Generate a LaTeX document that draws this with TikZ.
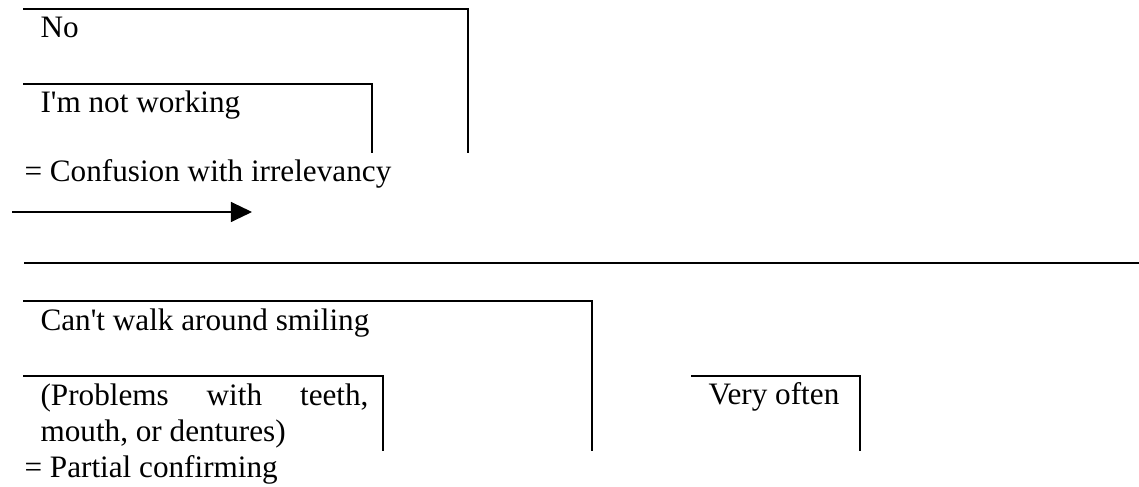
\documentclass[tikz,border=0pt]{standalone}
\usepackage{fontspec}
\setmainfont{Liberation Serif}
\usetikzlibrary{arrows.meta}
\begin{document}
\begin{tikzpicture}[x=0.375pt,y=-0.375pt,
  txt/.style={anchor=base west,inner sep=0pt,font=\fontsize{11.7pt}{13.5pt}\selectfont},
  frame/.style={line width=0.75pt,line cap=rect},
  arrowline/.style={line width=0.45pt,-{Triangle[length=7.9pt,width=7.5pt]}}]
\useasboundingbox (0,0) rectangle (1139,487);
% top group
\coordinate (f1a) at (24,9);
\coordinate (f1b) at (468,152);
\coordinate (f2a) at (24,84);
\coordinate (f2b) at (372,152);
\draw[frame] (f1a) -| (f1b);
\draw[frame] (f2a) -| (f2b);
\node[txt] (no) at (40,38) {No};
\node[txt] (notw) at (40,113) {I\textquotesingle m not working};
\node[txt] (conf) at (24,182) {= Confusion with irrelevancy};
% arrow
\coordinate (a1) at (12,212);
\coordinate (a2) at (252,212);
\draw[arrowline] (a1) -- (a2);
% long rule
\coordinate (r1) at (24,263);
\coordinate (r2) at (1139,263);
\draw[frame,line cap=butt] (r1) -- (r2);
% bottom group
\coordinate (f3a) at (24,301);
\coordinate (f3b) at (592,450);
\coordinate (f4a) at (24,376);
\coordinate (f4b) at (383,450);
\coordinate (f5a) at (692,376);
\coordinate (f5b) at (860,450);
\draw[frame] (f3a) -| (f3b);
\draw[frame] (f4a) -| (f4b);
\draw[frame] (f5a) -| (f5b);
\node[txt] (cant) at (40,331) {Can\textquotesingle t walk around smiling};
\node[txt] (prob1) at (40,406) {\hbox to 123pt{(Problems\hfil with\hfil teeth,}};
\node[txt] (prob2) at (40,442) {mouth, or dentures)};
\node[txt] (part) at (24,478) {= Partial confirming};
\node[txt] (often) at (708,405) {Very often};
\end{tikzpicture}
\end{document}
